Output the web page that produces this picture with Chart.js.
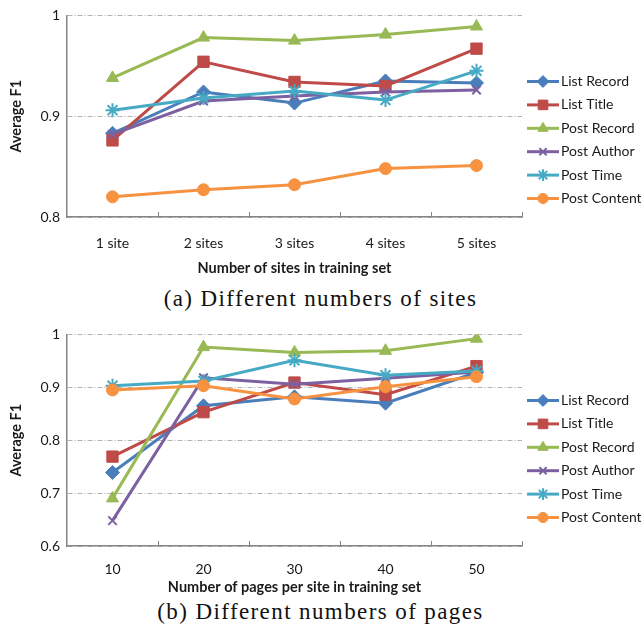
<!DOCTYPE html>
<html>
<head>
<meta charset="utf-8">
<script src="https://cdn.jsdelivr.net/npm/chart.js@4.4.0/dist/chart.umd.min.js"></script>
<style>
  body { margin: 0; background: #fff; width: 641px; height: 631px; position: relative; overflow: hidden; }
  .box { position: absolute; left: 0; width: 641px; height: 280px; }
  .cap { position: absolute; left: 0; width: 641px; text-align: center; font-family: "Liberation Serif", serif; font-size: 23px; letter-spacing: 1.4px; line-height: 25px; color: #111; }
</style>
</head>
<body>
<div class="box" style="top:0px"><canvas id="sites" width="641" height="280"></canvas></div>
<div class="cap" style="top:286px">(a) Different numbers of sites</div>
<div class="box" style="top:319px"><canvas id="pages" width="641" height="280"></canvas></div>
<div class="cap" style="top:599px">(b) Different numbers of pages</div>
<script>
var seriesNames = ['List Record', 'List Title', 'Post Record', 'Post Author', 'Post Time', 'Post Content'];

var siteLabels = ['1 site', '2 sites', '3 sites', '4 sites', '5 sites'];
var listRecordSites  = [0.883, 0.924, 0.913, 0.935, 0.933];
var listTitleSites   = [0.876, 0.954, 0.934, 0.930, 0.967];
var postRecordSites  = [0.938, 0.978, 0.975, 0.981, 0.989];
var postAuthorSites  = [0.882, 0.915, 0.920, 0.924, 0.926];
var postTimeSites    = [0.906, 0.918, 0.925, 0.916, 0.945];
var postContentSites = [0.820, 0.827, 0.832, 0.848, 0.851];

var pageLabels = ['10', '20', '30', '40', '50'];
var listRecordPages  = [0.739, 0.865, 0.882, 0.870, 0.928];
var listTitlePages   = [0.769, 0.853, 0.909, 0.886, 0.940];
var postRecordPages  = [0.690, 0.976, 0.966, 0.969, 0.992];
var postAuthorPages  = [0.648, 0.918, 0.906, 0.917, 0.929];
var postTimePages    = [0.903, 0.912, 0.951, 0.923, 0.931];
var postContentPages = [0.895, 0.903, 0.878, 0.901, 0.920];

// excel-ish palette and markers
var colors = ['#4a7ebb', '#be4b48', '#98b954', '#7d60a0', '#46aac5', '#f69240'];
var markers = ['rectRot', 'rect', 'triangle', 'crossRot', 'star', 'circle'];
var markerSize = [7, 8, 7, 6, 7, 6];

var FONT = 'Lato';
var TEXT = '#1a1a1a';
var AXIS = '#868686';

// legend on the right: short line with marker, then label
var sideLegend = {
  id: 'sideLegend',
  afterDraw: function(chart) {
    var ctx = chart.ctx;
    var ds = chart.data.datasets;
    var x0 = chart.chartArea.right + 5;
    var step = 23.4;
    var y = chart.height / 2 - step * (ds.length - 1) / 2;
    ctx.save();
    ds.forEach(function(d) {
      ctx.strokeStyle = d.borderColor;
      ctx.lineWidth = 3;
      ctx.beginPath();
      ctx.moveTo(x0, y);
      ctx.lineTo(x0 + 32, y);
      ctx.stroke();
      ctx.fillStyle = d.pointBackgroundColor;
      ctx.strokeStyle = d.pointBorderColor;
      ctx.lineWidth = d.pointBorderWidth;
      Chart.helpers.drawPoint(ctx, {
        pointStyle: d.pointStyle, radius: d.pointRadius * 0.85, rotation: 0, borderWidth: d.pointBorderWidth
      }, x0 + 16, y);
      ctx.fillStyle = TEXT;
      ctx.font = '14px ' + FONT;
      ctx.textBaseline = 'middle';
      ctx.textAlign = 'left';
      ctx.fillText(d.label, x0 + 34, y);
      y += step;
    });
    ctx.restore();
  }
};

// small tick marks pointing up from the x axis, between categories
var innerTicks = {
  id: 'innerTicks',
  beforeDatasetsDraw: function(chart) {
    var s = chart.scales.x;
    var n = chart.data.labels.length;
    var w = (s.right - s.left) / n;
    var ctx = chart.ctx;
    ctx.save();
    ctx.strokeStyle = AXIS;
    ctx.lineWidth = 1;
    for (var i = 1; i <= n; i++) {
      var x = Math.round(s.left + i * w) + 0.5;
      ctx.beginPath();
      ctx.moveTo(x, s.top);
      ctx.lineTo(x, s.top - 5);
      ctx.stroke();
    }
    ctx.restore();
  }
};

function buildSets(lists) {
  return lists.map(function(vals, i) {
    var open = markers[i] == 'crossRot' || markers[i] == 'star';
    return {
      label: seriesNames[i],
      data: vals,
      borderColor: colors[i],
      backgroundColor: colors[i],
      borderWidth: 3,
      tension: 0,
      pointStyle: markers[i],
      pointRadius: markerSize[i],
      pointBackgroundColor: colors[i],
      pointBorderColor: colors[i],
      pointBorderWidth: open ? 2 : 1,
      order: lists.length - i
    };
  });
}

function makeChart(id, labels, lists, yMin, xTitle, opt) {
  var ctx = document.getElementById(id).getContext('2d');
  return new Chart(ctx, {
    type: 'line',
    data: { labels: labels, datasets: buildSets(lists) },
    options: {
      responsive: false,
      animation: false,
      events: [],
      layout: { padding: { top: 14, right: 119, left: 0, bottom: 0 } },
      plugins: { legend: { display: false }, tooltip: { enabled: false } },
      scales: {
        x: {
          offset: true,
          grid: { display: false },
          border: { display: true, color: AXIS, width: 1.5 },
          ticks: { color: TEXT, font: { family: FONT, size: 14 }, padding: opt.labelPad, maxRotation: 0 },
          title: { display: true, text: xTitle, color: TEXT, font: { family: FONT, size: 14.5, weight: 'bold' }, padding: { top: 0, bottom: opt.titlePad } },
          afterFit: function(s) { s.height = opt.xHeight; }
        },
        y: {
          min: yMin,
          max: 1,
          grid: { color: '#b3b3b3', lineWidth: 1, drawTicks: false },
          border: { display: true, color: AXIS, width: 1.5, dash: [5, 2, 1, 2] },
          ticks: {
            stepSize: 0.1,
            padding: 7,
            color: TEXT,
            font: { family: FONT, size: 14 },
            callback: function(v) { return String(+v.toFixed(1)); }
          },
          title: { display: true, text: 'Average F1', color: TEXT, font: { family: FONT, size: 14.5, weight: 'bold' }, padding: { top: 8, bottom: 0 } },
          afterFit: function(s) { s.width = 67; }
        }
      }
    },
    plugins: [innerTicks, sideLegend]
  });
}

makeChart('sites', siteLabels,
  [listRecordSites, listTitleSites, postRecordSites, postAuthorSites, postTimeSites, postContentSites],
  0.8, 'Number of sites in training set', { labelPad: 10, titlePad: 3, xHeight: 63 });

makeChart('pages', pageLabels,
  [listRecordPages, listTitlePages, postRecordPages, postAuthorPages, postTimePages, postContentPages],
  0.6, 'Number of pages per site in training set', { labelPad: 7, titlePad: 3, xHeight: 53 });
</script>
</body>
</html>
